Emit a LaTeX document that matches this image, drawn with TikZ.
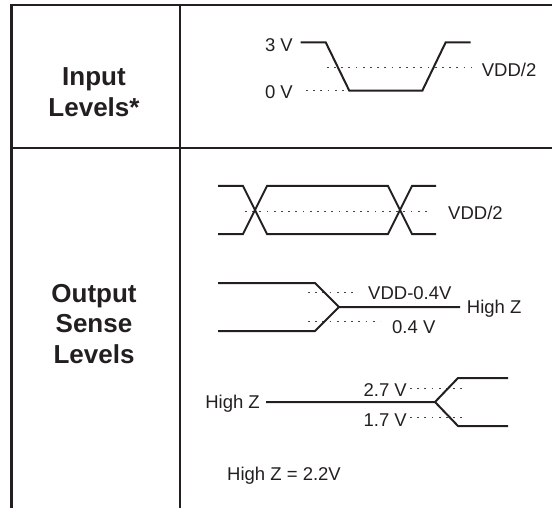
\documentclass[tikz,border=0pt]{standalone}
\usepackage{fontspec}
\setmainfont{Liberation Sans}
\definecolor{ink}{HTML}{231F20}
\definecolor{dotc}{HTML}{444444}
\begin{document}
\begin{tikzpicture}[x=1pt,y=-1pt,
  frame/.style={draw=ink,line width=2.8pt},
  wave/.style={draw=ink,line width=2pt,line join=miter},
  guide/.style={draw=dotc,line width=1pt,dash pattern=on 1.8pt off 5.4pt},
  lbl/.style={inner sep=0pt,text=ink,font=\fontsize{18.5}{22}\selectfont},
  head/.style={inner sep=0pt,text=ink,font=\fontsize{26}{30}\selectfont\bfseries}]
\useasboundingbox (0,0) rectangle (552,508);
% table frame
\draw[frame] (552,5) -- (11.7,5) -- (11.7,508);
\draw[frame] (180,5) -- (180,508);
\draw[frame] (11.7,148) -- (552,148);
% row headings
\node[head,anchor=base] (in1) at (94,86) {Input};
\node[head,anchor=base] (in2) at (94,117) {Levels*};
\node[head,anchor=base] (out1) at (94,302) {Output};
\node[head,anchor=base] (out2) at (94,332.5) {Sense};
\node[head,anchor=base] (out3) at (94,363) {Levels};
% input levels
\draw[guide] (326.7,67.7) -- (471.7,67.7);
\draw[guide] (306,90.7) -- (400,90.7);
\draw[wave] (300.7,42.3) -- (325.7,42.3) -- (349.3,90.7) -- (422.3,90.7) -- (445.7,42.3) -- (470.7,42.3);
\node[lbl,anchor=base east] (v3) at (293,51.6) {3 V};
\node[lbl,anchor=base east] (v0) at (293,98.6) {0 V};
\node[lbl,anchor=base west] (vh1) at (481.7,76.6) {VDD/2};
% crossing
\draw[guide] (245,212) -- (432,212);
\draw[wave] (218,186) -- (243,186) -- (267,234) -- (388,234) -- (412,186) -- (436,186);
\draw[wave] (218,234) -- (243,234) -- (267,186) -- (388,186) -- (412,234) -- (436,234);
\node[lbl,anchor=base west] (vh2) at (448,219.6) {VDD/2};
% to high Z
\draw[guide] (308,292) -- (357,292);
\draw[guide] (308,321) -- (380,321);
\draw[wave] (218,283) -- (315,283) -- (339,307) -- (460,307);
\draw[wave] (218,331) -- (315,331) -- (339,307);
\node[lbl,anchor=base west] (vddm) at (368,299.6) {VDD-0.4V};
\node[lbl,anchor=base west] (v04) at (392,333) {0.4 V};
\node[lbl,anchor=base west] (hz1) at (466.7,313.6) {High Z};
% from high Z
\draw[guide] (410,388) -- (462,388);
\draw[guide] (410,417) -- (462,417);
\draw[wave] (266,402) -- (435,402) -- (458,378) -- (508,378);
\draw[wave] (435,402) -- (458,426) -- (508,426);
\node[lbl,anchor=base east] (hz2) at (260,408.6) {High Z};
\node[lbl,anchor=base east] (v27) at (407,396.7) {2.7 V};
\node[lbl,anchor=base east] (v17) at (407,426.7) {1.7 V};
\node[lbl,anchor=base west] (hzn) at (227,480.7) {High Z = 2.2V};
\end{tikzpicture}
\end{document}
